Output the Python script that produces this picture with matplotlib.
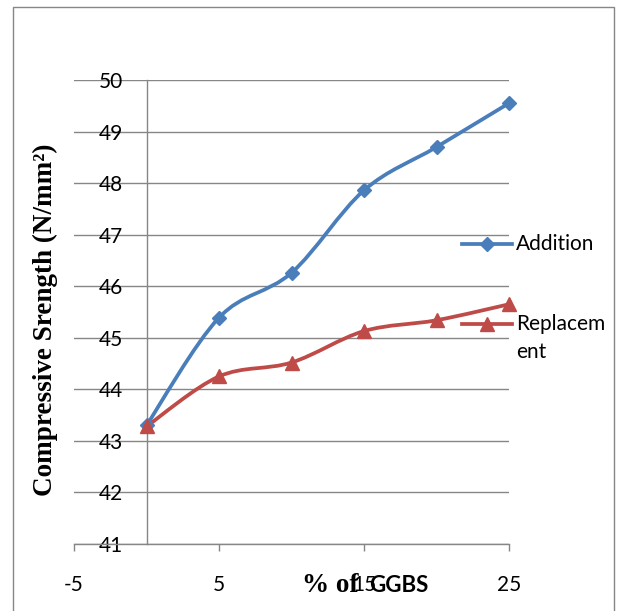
import matplotlib
matplotlib.use('Agg')
import matplotlib.pyplot as plt
import matplotlib.transforms as mtrans
from matplotlib.path import Path
from matplotlib.patches import PathPatch, Rectangle
from matplotlib.lines import Line2D
import numpy as np

# ---- data ----
ggbs_pct = [0, 5, 10, 15, 20, 25]
addition = [43.30, 45.39, 46.26, 47.86, 48.70, 49.55]
replacement = [43.28, 44.25, 44.52, 45.13, 45.34, 45.65]
series_names = ["Addition", "Replacem\nent"]
x_ticks = [-5, 5, 15, 25]
y_ticks = list(range(41, 51))
y_title = "Compressive Srength (N/mm\u00b2)"
x_title_serif = "% of"
x_title_sans = "GGBS"

BLUE = '#4A7EBB'
RED = '#BE4B48'
GRID = '#868686'
SANS = ['Lato', 'DejaVu Sans']
SERIF = ['Liberation Serif', 'DejaVu Serif']

W, H = 621, 611
fig = plt.figure(figsize=(W / 100, H / 100), dpi=100)
px = mtrans.Affine2D().scale(1 / W, -1 / H).translate(0, 1) + fig.transFigure

ax = fig.add_axes([74 / W, 1 - 544 / H, (509 - 74) / W, (544 - 80) / H])
ax.set_xlim(-5, 25)
ax.set_ylim(41, 50)


def smooth_path(xs, ys):
    P = np.column_stack([xs, ys]).astype(float)
    n = len(P)
    verts = [P[0]]
    codes = [Path.MOVETO]
    for i in range(n - 1):
        p0 = P[i - 1] if i > 0 else P[i]
        p1 = P[i]
        p2 = P[i + 1]
        p3 = P[i + 2] if i + 2 < n else P[i + 1]
        c1 = p1 + (p2 - p0) / 6.0
        c2 = p2 - (p3 - p1) / 6.0
        verts += [c1, c2, p2]
        codes += [Path.CURVE4] * 3
    return Path(verts, codes)


for ys, col, mk, ms in [(addition, BLUE, 'D', 7.5), (replacement, RED, '^', 10.5)]:
    patch = PathPatch(smooth_path(ggbs_pct, ys), facecolor='none', edgecolor=col,
                      lw=2.7, capstyle='round', joinstyle='round', zorder=3)
    ax.add_patch(patch)
    ax.plot(ggbs_pct, ys, linestyle='none', marker=mk, ms=ms, color=col,
            markeredgecolor=col, zorder=4, clip_on=False)

# axes styling
for s in ['top', 'right']:
    ax.spines[s].set_visible(False)
ax.spines['left'].set_position(('data', 0))
for s in ['left', 'bottom']:
    ax.spines[s].set_color(GRID)
    ax.spines[s].set_linewidth(1.0)
ax.set_yticks(y_ticks)
ax.set_yticklabels([str(v) for v in y_ticks])
ax.set_xticks(x_ticks)
ax.set_xticklabels([str(v) for v in x_ticks])
ax.yaxis.grid(True, color=GRID, lw=1.0)
ax.set_axisbelow(True)
ax.tick_params(axis='y', length=0, pad=17)
ax.tick_params(axis='x', length=5, width=1.0, color=GRID, direction='out', pad=17)
for lab in ax.get_xticklabels() + ax.get_yticklabels():
    lab.set_fontfamily(SANS)
    lab.set_fontsize(15)
    lab.set_color('black')

# axis titles
fig.text(45 / W, 1 - 320 / H, y_title, rotation=90, ha='center', va='center',
         fontfamily=SERIF, fontweight='bold', fontsize=19.5)
fig.text(302 / W, 1 - 592 / H, x_title_serif, ha='left', va='baseline',
         fontfamily=SERIF, fontweight='bold', fontsize=19.5)
fig.text(369 / W, 1 - 592 / H, x_title_sans, ha='left', va='baseline',
         fontfamily=SANS, fontweight='bold', fontsize=16)

# legend (manual)
leg_y = [244, 324]
for name, col, mk, ms, y in zip(series_names, [BLUE, RED], ['D', '^'], [7.5, 10.5], leg_y):
    fig.add_artist(Line2D([462, 512], [y, y], transform=px, color=col, lw=2.7))
    fig.add_artist(Line2D([487], [y], transform=px, color=col, marker=mk, ms=ms,
                          linestyle='none'))
    for k, ln in enumerate(name.split('\n')):
        fig.text(516 / W, 1 - (y + 28 * k) / H, ln, ha='left', va='center',
                 fontfamily=SANS, fontsize=15)

# outer border
fig.add_artist(Rectangle((13 / W, -0.05), (614 - 13) / W, 1.05 - 7 / H,
                         transform=fig.transFigure, fill=False, edgecolor=GRID, lw=1.0))

fig.savefig('out.png', dpi=100)
